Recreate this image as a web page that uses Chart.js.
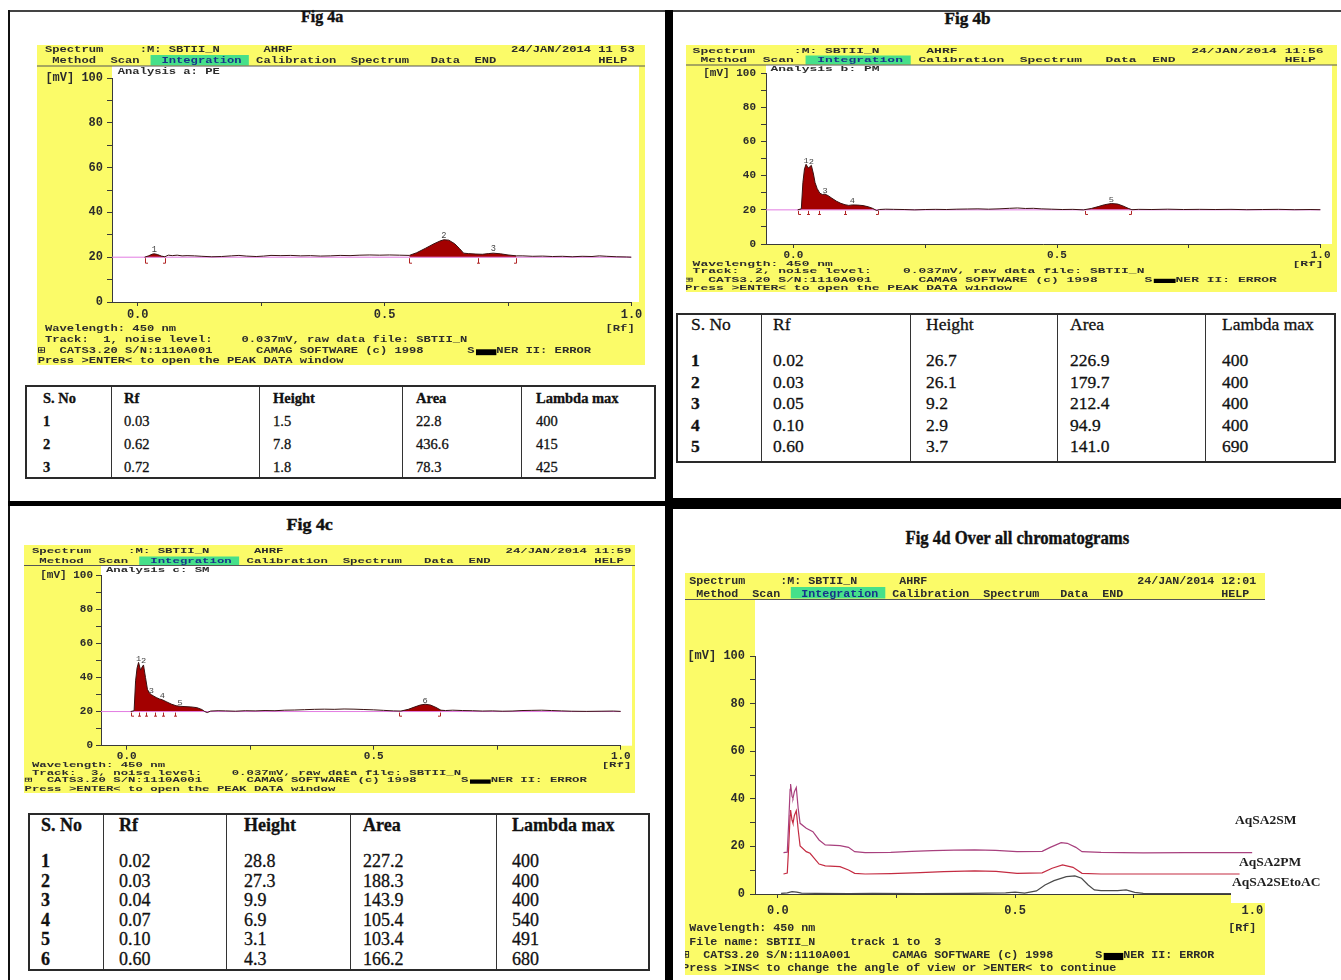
<!DOCTYPE html>
<html>
<head>
<meta charset="utf-8">
<title>Fig 4 - HPTLC chromatograms</title>
<script src="https://cdn.jsdelivr.net/npm/chart.js"></script>
<style>
  html, body { margin: 0; padding: 0; background: #fff; }
  #page { position: relative; width: 1341px; height: 980px; overflow: hidden; background: #fff; }
  .rule { position: absolute; background: #111; }
  .fig-title { position: absolute; font-family: "Liberation Serif", serif; font-weight: bold; color: #111;
               white-space: nowrap; line-height: 1; -webkit-text-stroke: 0.4px #111; }
  canvas { position: absolute; }
  .tbl { position: absolute; border: 2px solid #2a2a2a; box-sizing: border-box; }
  .tbl .vl { position: absolute; top: 0; bottom: 0; width: 1px; background: #333; }
  .tbl .cell { position: absolute; font-family: "Liberation Serif", serif; color: #111; white-space: nowrap;
               line-height: 1; transform: translateY(-50%); -webkit-text-stroke: 0.3px #111; }
</style>
</head>
<body>
<div id="page"></div>
<script>
// ---------- data ----------
const BASE_MV = 20;               // integration baseline (mV)
const RF_TICKS = [0, 0.25, 0.5, 0.75, 1];
const RF_LABELED = [0, 0.5, 1];

// Fig 4a - track 1, analysis a: PE
const rfA = [0.014,0.022,0.030,0.034,0.040,0.048,0.055,0.062,0.070,0.080,0.090,0.100,0.115,0.130,0.150,0.170,0.190,
  0.205,0.220,0.240,0.255,0.270,0.290,0.310,0.330,0.350,0.370,0.390,0.410,0.430,0.450,0.470,0.490,0.510,0.530,0.550,
  0.565,0.583,0.600,0.612,0.620,0.630,0.642,0.652,0.660,0.670,0.685,0.698,0.710,0.720,0.735,0.750,0.767,
  0.780,0.800,0.820,0.840,0.860,0.880,0.900,0.920,0.935,0.950,0.970,0.990,1.000];
const mvA = [20.0,20.6,21.4,21.5,21.2,20.5,20.2,20.9,20.7,20.9,20.6,20.7,20.6,20.4,20.2,20.3,20.6,
  20.8,20.5,20.3,20.5,20.8,20.7,20.8,20.6,20.7,20.5,20.6,20.8,20.7,20.9,21.0,20.9,21.0,20.9,20.8,
  22.0,24.0,26.0,27.2,27.8,27.6,26.0,23.8,21.8,21.6,21.4,21.3,21.6,21.8,21.5,21.0,20.6,
  20.6,20.4,20.5,20.3,20.4,20.2,20.4,20.3,20.6,20.4,20.2,20.1,20.0];
const peakRfA = [0.034, 0.620, 0.720];
const tblRfA = [0.03, 0.62, 0.72];
const tblHeightA = [1.5, 7.8, 1.8];
const tblAreaA = [22.8, 436.6, 78.3];
const tblLambdaA = [400, 415, 425];
const fillA = [[0.014, 0.055], [0.550, 0.767]];
const markA = [[0.014, '['], [0.055, ']'], [0.550, '['], [0.690, 'I'], [0.767, ']']];

// Fig 4b - track 2, analysis b: PM
const rfB = [0.008,0.015,0.018,0.021,0.024,0.028,0.031,0.034,0.038,0.041,0.045,0.050,0.055,0.060,
  0.066,0.073,0.082,0.090,0.098,0.105,0.112,0.122,0.132,0.142,0.150,0.158,0.163,0.175,0.190,
  0.210,0.230,0.250,0.270,0.290,0.310,0.330,0.350,0.370,0.390,0.410,0.425,0.440,0.455,0.470,
  0.490,0.510,0.530,0.550,0.565,0.578,0.590,0.603,0.615,0.625,0.635,0.642,
  0.655,0.680,0.710,0.740,0.770,0.800,0.830,0.860,0.890,0.920,0.950,0.980,1.000];
const mvB = [20.0,20.6,36.0,44.0,46.7,44.5,45.2,46.1,41.0,36.0,32.5,29.8,29.0,29.2,
  28.3,26.8,25.0,23.8,23.0,22.6,22.9,22.8,22.5,21.8,20.9,19.6,20.2,20.4,20.3,
  20.2,20.0,20.2,20.3,20.2,20.4,20.5,20.6,20.4,20.6,20.9,21.1,20.8,20.9,20.6,
  20.4,20.2,20.3,20.0,20.8,21.9,23.0,23.7,23.4,22.3,20.9,20.1,
  20.3,20.2,20.4,20.2,20.3,20.2,20.3,20.1,20.2,20.3,20.1,20.2,20.1];
const peakRfB = [0.024, 0.034, 0.060, 0.112, 0.603];
const tblRfB = [0.02, 0.03, 0.05, 0.10, 0.60];
const tblHeightB = [26.7, 26.1, 9.2, 2.9, 3.7];
const tblAreaB = [226.9, 179.7, 212.4, 94.9, 141.0];
const tblLambdaB = [400, 400, 400, 400, 690];
const fillB = [[0.008, 0.158], [0.550, 0.642]];
const markB = [[0.008, '['], [0.028, 'I'], [0.048, 'I'], [0.098, 'I'], [0.160, ']'], [0.553, '['], [0.641, ']']];

// Fig 4c - track 3, analysis c: SM
const rfC = [0.008,0.015,0.018,0.021,0.024,0.028,0.031,0.034,0.038,0.042,0.046,0.050,0.055,
  0.060,0.066,0.072,0.080,0.090,0.100,0.108,0.118,0.130,0.142,0.152,0.158,0.163,0.170,0.185,
  0.200,0.220,0.240,0.260,0.280,0.300,0.320,0.340,0.360,0.380,0.400,0.420,0.440,0.460,0.480,
  0.500,0.520,0.540,0.555,0.570,0.582,0.594,0.604,0.615,0.626,0.636,0.645,
  0.660,0.680,0.700,0.720,0.740,0.760,0.780,0.800,0.820,0.840,0.860,0.880,0.900,0.930,0.960,0.985,1.000];
const mvC = [20.0,20.5,38.0,45.5,48.8,44.3,46.0,47.3,40.0,33.0,30.8,29.9,29.0,
  28.2,27.4,26.9,25.8,24.4,23.4,23.1,22.9,22.7,22.3,21.2,20.0,19.4,20.3,20.5,
  20.4,20.2,20.5,20.4,20.6,20.5,20.8,20.9,21.1,21.3,21.4,21.3,21.5,21.4,21.2,
  21.0,20.7,20.4,20.3,21.3,22.6,23.8,24.3,23.8,22.4,20.8,20.6,
  20.8,20.6,20.5,20.3,20.4,20.2,20.3,20.6,20.7,20.8,20.6,20.4,20.2,20.1,20.2,20.3,20.1];
const peakRfC = [0.024, 0.034, 0.050, 0.072, 0.108, 0.604];
const tblRfC = [0.02, 0.03, 0.04, 0.07, 0.10, 0.60];
const tblHeightC = [28.8, 27.3, 9.9, 6.9, 3.1, 4.3];
const tblAreaC = [227.2, 188.3, 143.9, 105.4, 103.4, 166.2];
const tblLambdaC = [400, 400, 400, 540, 491, 680];
const fillC = [[0.008, 0.158], [0.555, 0.645]];
const markC = [[0.008, '['], [0.024, 'I'], [0.040, 'I'], [0.058, 'I'], [0.074, 'I'], [0.098, 'I'], [0.552, '['], [0.634, ']']];

// Fig 4d - overlay of all tracks
const seriesNames = ['AqSA2SM', 'AqSA2PM', 'AqSA2SEtoAC'];
const rfSM = [0.012,0.020,0.023,0.026,0.027,0.030,0.032,0.035,0.039,0.043,0.047,0.060,0.074,0.087,0.100,
  0.131,0.149,0.162,0.184,0.238,0.282,0.326,0.371,0.415,0.459,0.504,0.557,0.574,0.597,0.610,
  0.628,0.641,0.681,0.770,0.858,0.929,1.000];
const mvSM = [17.4,17.6,30.0,44.0,46.2,41.0,40.2,43.0,44.7,36.0,29.7,27.6,26.2,22.7,20.6,
  20.3,19.6,17.8,17.4,17.5,17.9,18.2,18.4,18.5,18.3,17.8,17.9,19.6,21.6,21.3,
  19.6,17.8,17.5,17.3,17.4,17.4,17.4];
const rfPM = [0.012,0.020,0.023,0.026,0.027,0.030,0.032,0.035,0.039,0.043,0.047,0.060,0.068,0.087,0.100,
  0.131,0.149,0.162,0.184,0.238,0.300,0.350,0.415,0.460,0.504,0.557,0.578,0.600,0.622,0.641,
  0.681,0.800,0.900,0.973];
const mvPM = [8.4,8.8,20.0,33.0,35.3,31.0,29.7,33.0,35.0,27.0,20.2,17.8,17.1,12.6,11.8,
  11.5,10.1,8.7,8.4,8.6,9.0,9.4,9.7,9.5,8.7,8.9,10.8,12.2,11.2,8.7,
  8.4,8.4,8.4,8.4];
const rfSE = [0.007,0.020,0.030,0.040,0.050,0.080,0.150,0.200,0.300,0.400,0.480,0.500,0.520,0.545,0.563,
  0.582,0.608,0.626,0.640,0.654,0.667,0.681,0.716,0.734,0.752,0.770,0.850,0.956];
const mvSE = [0.3,0.5,1.0,0.8,0.4,0.3,0.2,0.3,0.2,0.3,0.5,0.8,0.4,1.3,3.8,
  5.6,7.3,7.6,6.6,3.8,1.7,1.4,1.4,1.7,0.7,0.3,0.2,0.2];

// ---------- look ----------
const YELLOW = '#fbfb68';
const GREEN = '#46e08a';
const INK = '#2c2c2c';
const AXIS = '#3a3a3a';
const TRACE = '#3a1212';
const PEAK_FILL = '#a30000';
const BASE_PINK = '#e27ce2';
const MARK = '#b02424';
const MONO = '"Liberation Mono", "DejaVu Sans Mono", monospace';
const SERIES_COLORS = ['#a8407e', '#c42c42', '#4a4a4a'];

const page = document.getElementById('page');

// screen geometry of each panel (page pixels)
const P_A = {
  cv: { l: 37, t: 45, w: 608, h: 320 }, yellow: { l: 37, t: 45, r: 645, b: 365 },
  white: { l: 112, t: 66, r: 639, b: 302 }, area: { l: 112, r: 631.5, t: 78, b: 302 }, xMin: -0.052,
  txt: { x0: 45, cw: 7.28, fs: 9.5, sy: 1, h1: 50, h2: 60.5, an: 72, ul: 65.5, hl: [55, 65.5], bottom: [329, 340, 351, 361] },
  tickFs: 12, xPad: 2, yPad: 4, time: '11 53', track: '1', analysis: 'Analysis a: PE', peakFs: 9
};
const P_B = {
  cv: { l: 686, t: 45, w: 651, h: 247 }, yellow: { l: 686, t: 45, r: 1337, b: 292 },
  white: { l: 766, t: 65, r: 1332, b: 244 }, area: { l: 766, r: 1320.6, t: 73.3, b: 244 }, xMin: -0.052,
  txt: { x0: 692.6, cw: 7.79, fs: 9.5, sy: 0.72, h1: 51.5, h2: 60.5, an: 69.5, ul: 64.5, hl: [55.5, 64.5], bottom: [264.3, 271.7, 280, 288] },
  tickFs: 11, xPad: 1, yPad: 5, time: '11:56', track: '2', analysis: 'Analysis b: PM', peakFs: 9
};
const P_C = {
  cv: { l: 24, t: 545, w: 611, h: 249 }, yellow: { l: 24, t: 545, r: 635, b: 793 },
  white: { l: 101, t: 566, r: 632, b: 745.7 }, area: { l: 101, r: 620.8, t: 575, b: 745.7 }, xMin: -0.052,
  txt: { x0: 31.9, cw: 7.4, fs: 9.5, sy: 0.72, h1: 551.7, h2: 561, an: 570.7, ul: 565, hl: [556.5, 565], bottom: [765.3, 773.3, 780.7, 789] },
  tickFs: 11, xPad: 0, yPad: 3, time: '11:59', track: '3', analysis: 'Analysis c: SM', peakFs: 9
};
const P_D = {
  cv: { l: 685, t: 573, w: 654, h: 402 }, yellow: { l: 685, t: 573, r: 1265, b: 975 },
  white: { l: 755, t: 600, r: 1265, b: 894 }, area: { l: 755, r: 1252.4, t: 656, b: 894 }, xMin: -0.048,
  txt: { x0: 689.3, cw: 7.0, fs: 11.5, sy: 1, h1: 580.7, h2: 593.7, ul: 599, hl: [587, 598.5], bottom: [928.3, 941.7, 955, 968.3] },
  tickFs: 12, xPad: 6, yPad: 5, time: '12:01'
};

// ---------- drawing helpers ----------
function monoText(ctx, s, x, y, t, color, weight) {
  ctx.save();
  ctx.font = (weight || 'bold') + ' ' + t.fs + 'px ' + MONO;
  const k = t.cw / ctx.measureText('M').width;
  ctx.translate(x, y);
  ctx.scale(k, t.sy);
  ctx.textBaseline = 'middle';
  ctx.fillStyle = color || INK;
  ctx.fillText(s, 0, 0);
  ctx.restore();
}
function monoPieces(ctx, pieces, y, t) {
  pieces.forEach(([i, s]) => monoText(ctx, s, t.x0 + i * t.cw, y, t));
}

const MENU = [[1, 'Method'], [9, 'Scan'], [29, 'Calibration'], [42, 'Spectrum'], [53, 'Data'], [59, 'END'], [76, 'HELP']];

function drawScreenFrame(ctx, p) {
  const t = p.txt, y = p.yellow, w = p.white;
  ctx.fillStyle = YELLOW;
  ctx.fillRect(y.l, y.t, y.r - y.l, y.b - y.t);
  ctx.fillStyle = '#fff';
  ctx.fillRect(w.l, w.t, w.r - w.l, w.b - w.t);
  ctx.fillStyle = GREEN;
  ctx.fillRect(t.x0 + 14.5 * t.cw, t.hl[0], 13.5 * t.cw, t.hl[1] - t.hl[0]);
  ctx.fillStyle = '#555';
  ctx.fillRect(y.l, t.ul, y.r - y.l, 1);
}

function drawScreenText(ctx, p, lines) {
  const t = p.txt, y = p.yellow;
  ctx.save();
  ctx.beginPath();
  ctx.rect(y.l, y.t, y.r - y.l, y.b - y.t);
  ctx.clip();
  monoPieces(ctx, [[0, 'Spectrum'], [13, ':M: SBTII_N'], [30, 'AHRF'], [64, '24/JAN/2014 ' + p.time]], t.h1, t);
  monoPieces(ctx, MENU, t.h2, t);
  monoText(ctx, 'Integration', t.x0 + 16 * t.cw, t.h2, t, '#17338a', 'bold');
  if (p.analysis) monoPieces(ctx, [[10, p.analysis]], t.an, t);
  lines.forEach((pieces, i) => monoPieces(ctx, pieces, t.bottom[i], t));
  // blacked-out part of the scanner name
  ctx.fillStyle = '#000';
  ctx.fillRect(t.x0 + 59.2 * t.cw, t.bottom[2] - 0.18 * t.fs * t.sy, 2.8 * t.cw, 0.62 * t.fs * t.sy);
  ctx.restore();
}

const CATS_LINE = [[-1, '\u229e'], [2, 'CATS3.20 S/N:1110A001'], [29, 'CAMAG SOFTWARE (c) 1998'], [58, 'S'], [62, 'NER II: ERROR']];

// single-track screen: frame, captions, peak numbers and integration marks
function trackPlugin(p, peakRf, heights, marks) {
  return {
    id: 'screen',
    beforeDraw(chart) {
      const ctx = chart.ctx;
      ctx.save();
      ctx.translate(-p.cv.l, -p.cv.t);
      drawScreenFrame(ctx, p);
      ctx.restore();
    },
    afterDraw(chart) {
      const ctx = chart.ctx, xs = chart.scales.x, ys = chart.scales.y, t = p.txt;
      ctx.save();
      ctx.translate(-p.cv.l, -p.cv.t);
      drawScreenText(ctx, p, [
        [[0, 'Wavelength: 450 nm'], [77, '[Rf]']],
        [[0, 'Track:'], [8, p.track + ', noise level:'], [27, '0.037mV, raw data file: SBTII_N']],
        CATS_LINE,
        [[-1, 'Press >ENTER< to open the PEAK DATA window']]
      ]);
      ctx.restore();

      // peak numbers above each integrated peak
      const pt = { cw: 5.2, fs: p.peakFs, sy: t.sy };
      peakRf.forEach((rf, i) => {
        const x = xs.getPixelForValue(rf);
        const y = ys.getPixelForValue(BASE_MV + heights[i]);
        monoText(ctx, String(i + 1), x - pt.cw / 2, y - 4.5 * t.sy, pt, '#444', 'normal');
      });

      // integration start / split / end marks under the baseline
      const y0 = ys.getPixelForValue(BASE_MV);
      const hMark = 5 * t.sy;
      ctx.save();
      ctx.strokeStyle = MARK;
      ctx.lineWidth = 1;
      marks.forEach(([rf, kind]) => {
        const x = Math.round(xs.getPixelForValue(rf)) + 0.5;
        ctx.beginPath();
        ctx.moveTo(x, y0 + 1);
        ctx.lineTo(x, y0 + 1 + hMark);
        if (kind === '[') ctx.lineTo(x + 2.5, y0 + 1 + hMark);
        if (kind === ']') ctx.lineTo(x - 2.5, y0 + 1 + hMark);
        if (kind === 'I') { ctx.moveTo(x - 1.5, y0 + 1 + hMark); ctx.lineTo(x + 1.5, y0 + 1 + hMark); }
        ctx.stroke();
      });
      ctx.restore();
    }
  };
}

function overlayPlugin(p) {
  return {
    id: 'screen',
    beforeDraw(chart) {
      const ctx = chart.ctx;
      ctx.save();
      ctx.translate(-p.cv.l, -p.cv.t);
      drawScreenFrame(ctx, p);
      ctx.restore();
    },
    afterDraw(chart) {
      const ctx = chart.ctx;
      ctx.save();
      ctx.translate(-p.cv.l, -p.cv.t);
      drawScreenText(ctx, p, [
        [[0, 'Wavelength: 450 nm'], [77, '[Rf]']],
        [[0, 'File name: SBTII_N'], [23, 'track 1 to  3']],
        CATS_LINE,
        [[-1, 'Press >INS< to change the angle of view or >ENTER< to continue']]
      ]);
      // white label strip at the right end of the plot
      ctx.fillStyle = '#fff';
      ctx.fillRect(1231, 889, 110, 14);
      ctx.font = 'bold 13.5px "Liberation Serif", serif';
      ctx.textBaseline = 'middle';
      ctx.fillStyle = '#1e1e1e';
      const labelPos = [[1235, 821], [1239, 862.7], [1232, 883]];
      seriesNames.forEach((n, i) => ctx.fillText(n, labelPos[i][0], labelPos[i][1]));
      ctx.restore();
    }
  };
}

function axisOptions(p) {
  return {
    x: {
      type: 'linear', min: p.xMin, max: 1,
      afterFit: s => { s.height = p.cv.t + p.cv.h - p.area.b; },
      afterBuildTicks: s => { s.ticks = RF_TICKS.map(v => ({ value: v })); },
      ticks: { autoSkip: false, maxRotation: 0, padding: p.xPad, color: INK,
               font: { family: MONO, size: p.tickFs, weight: 'bold' },
               callback: v => (RF_LABELED.includes(v) ? v.toFixed(1) : '') },
      grid: { drawOnChartArea: false, tickLength: 4, color: AXIS },
      border: { color: AXIS, width: 1 }
    },
    y: {
      min: 0, max: 100,
      afterFit: s => { s.width = p.area.l - p.cv.l; },
      ticks: { stepSize: 10, padding: p.yPad, color: INK, font: { family: MONO, size: p.tickFs, weight: 'bold' },
               callback: v => (v === 100 ? '[mV] 100' : (v % 20 === 0 ? String(v) : '')) },
      grid: { drawOnChartArea: false, tickLength: 5, color: AXIS },
      border: { color: AXIS, width: 1 }
    }
  };
}

function makeChart(p, datasets, plugin) {
  const cv = document.createElement('canvas');
  cv.width = p.cv.w;
  cv.height = p.cv.h;
  cv.style.left = p.cv.l + 'px';
  cv.style.top = p.cv.t + 'px';
  page.appendChild(cv);
  return new Chart(cv, {
    type: 'line',
    data: { datasets },
    options: {
      responsive: false, animation: false, events: [],
      layout: { padding: { left: 0, bottom: 0, top: p.area.t - p.cv.t, right: p.cv.l + p.cv.w - p.area.r } },
      plugins: { legend: { display: false }, tooltip: { enabled: false } },
      scales: axisOptions(p)
    },
    plugins: [plugin]
  });
}

// trace + pink baseline + red integrated areas
function trackDatasets(p, rf, mv, fills) {
  const pts = rf.map((x, i) => ({ x, y: mv[i] }));
  const ds = [
    { data: pts, borderColor: TRACE, borderWidth: 1, pointRadius: 0, fill: false },
    { data: [{ x: p.xMin, y: BASE_MV }, { x: 1, y: BASE_MV }], borderColor: BASE_PINK, borderWidth: 1, pointRadius: 0, fill: false }
  ];
  fills.forEach(([a, b]) => ds.push({
    data: pts.filter(q => q.x >= a - 1e-9 && q.x <= b + 1e-9),
    borderWidth: 0, borderColor: PEAK_FILL, backgroundColor: PEAK_FILL, pointRadius: 0, fill: { value: BASE_MV }
  }));
  return ds;
}

makeChart(P_A, trackDatasets(P_A, rfA, mvA, fillA), trackPlugin(P_A, peakRfA, tblHeightA, markA));
makeChart(P_B, trackDatasets(P_B, rfB, mvB, fillB), trackPlugin(P_B, peakRfB, tblHeightB, markB));
makeChart(P_C, trackDatasets(P_C, rfC, mvC, fillC), trackPlugin(P_C, peakRfC, tblHeightC, markC));

const overlay = [[rfSM, mvSM], [rfPM, mvPM], [rfSE, mvSE]].map(([rf, mv], i) => ({
  label: seriesNames[i],
  data: rf.map((x, j) => ({ x, y: mv[j] })),
  borderColor: SERIES_COLORS[i], borderWidth: 1.2, pointRadius: 0, fill: false
}));
makeChart(P_D, overlay, overlayPlugin(P_D));

// ---------- frame rules and titles ----------
function rule(l, t, w, h, c) {
  const d = document.createElement('div');
  d.className = 'rule';
  Object.assign(d.style, { left: l + 'px', top: t + 'px', width: w + 'px', height: h + 'px' });
  if (c) d.style.background = c;
  page.appendChild(d);
}
rule(8, 10, 1333, 2, '#444');
rule(8, 10, 2, 970);
rule(665, 10, 8, 970, '#000');
rule(8, 501, 658, 5, '#000');
rule(672, 498, 669, 11, '#000');

function title(text, cx, cy, fs, w) {
  const d = document.createElement('div');
  d.className = 'fig-title';
  d.textContent = text;
  d.style.fontSize = fs + 'px';
  page.appendChild(d);
  const ow = d.offsetWidth, oh = d.offsetHeight;
  d.style.left = (cx - ow / 2) + 'px';
  d.style.top = (cy - oh / 2) + 'px';
  d.style.transform = 'scaleX(' + (w / ow) + ')';
}
title('Fig 4a', 322, 17, 16, 42);
title('Fig 4b', 967, 19, 16, 46);
title('Fig 4c', 309, 525, 16, 46);
title('Fig 4d Over all chromatograms', 1017, 537, 19, 224);

// ---------- peak tables ----------
const HEADERS = ['S. No', 'Rf', 'Height', 'Area', 'Lambda max'];
function addCell(box, text, x, y, fs, weight) {
  const c = document.createElement('div');
  c.className = 'cell';
  c.textContent = text;
  Object.assign(c.style, { left: x + 'px', top: y + 'px', fontSize: fs + 'px', fontWeight: weight });
  box.appendChild(c);
}
function buildTable(g, rf, height, area, lambda) {
  const box = document.createElement('div');
  box.className = 'tbl';
  Object.assign(box.style, { left: g.l + 'px', top: g.t + 'px', width: (g.r - g.l) + 'px', height: (g.b - g.t) + 'px' });
  g.v.forEach(x => {
    const d = document.createElement('div');
    d.className = 'vl';
    d.style.left = (x - g.l - 2) + 'px';
    box.appendChild(d);
  });
  const colX = [g.l].concat(g.v);
  HEADERS.forEach((h, c) => addCell(box, h, colX[c] + g.pad[c] - g.l - 2, g.head - g.t - 2, g.fs, g.headWeight));
  const cols = [rf.map((_, i) => String(i + 1)), rf.map(v => v.toFixed(2)), height.map(v => v.toFixed(1)),
                area.map(v => v.toFixed(1)), lambda.map(String)];
  rf.forEach((_, r) => cols.forEach((col, c) =>
    addCell(box, col[r], colX[c] + g.pad[c] - g.l - 2, g.row0 + r * g.dy - g.t - 2, g.fs, c === 0 ? 'bold' : 'normal')));
  page.appendChild(box);
}
buildTable({ l: 25, r: 656, t: 385, b: 479, v: [111, 259, 402, 521], pad: [18, 13, 14, 14, 15],
             head: 398, row0: 421, dy: 23, fs: 14.5, headWeight: 'bold' },
           tblRfA, tblHeightA, tblAreaA, tblLambdaA);
buildTable({ l: 676, r: 1336, t: 313, b: 463, v: [761, 910, 1057, 1205], pad: [15, 12, 16, 13, 17],
             head: 325, row0: 361, dy: 21.5, fs: 17.5, headWeight: 'normal' },
           tblRfB, tblHeightB, tblAreaB, tblLambdaB);
buildTable({ l: 28, r: 650, t: 813, b: 971, v: [103, 226, 350, 496], pad: [13, 16, 18, 13, 16],
             head: 825, row0: 861, dy: 19.5, fs: 18, headWeight: 'bold' },
           tblRfC, tblHeightC, tblAreaC, tblLambdaC);
</script>
</body>
</html>
